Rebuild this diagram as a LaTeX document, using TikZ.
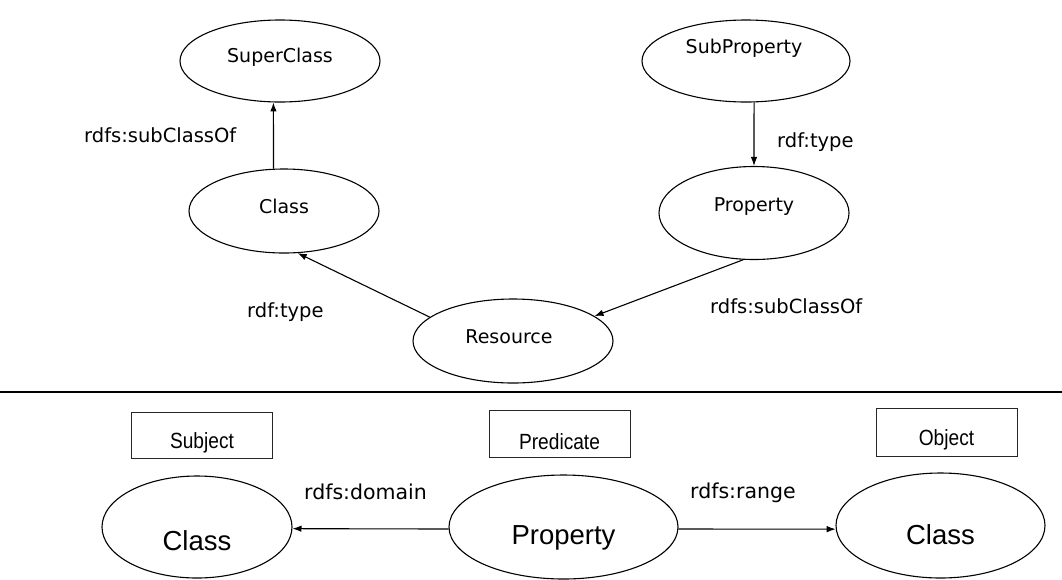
\documentclass[tikz,border=0pt]{standalone}
\usepackage{fontspec}
\setmainfont{DejaVu Sans}
\newfontfamily\arialf{Liberation Sans}
\newfontfamily\arialn[FakeStretch=0.87]{Liberation Sans}
\usetikzlibrary{shapes.geometric,arrows.meta}
\begin{document}
\begin{tikzpicture}[x=1pt,y=-1pt,
  ell/.style={draw, ellipse, line width=1.1pt, inner sep=0pt},
  tt/.style={font=\fontsize{19}{22}\selectfont, inner sep=0pt},
  lab/.style={font=\fontsize{19.5}{22}\selectfont, inner sep=0pt, anchor=base west},
  blab/.style={font=\fontsize{20.5}{24}\selectfont, inner sep=0pt, anchor=base west},
  box/.style={draw=black!85, line width=1pt, minimum width=141pt, minimum height=46pt, inner sep=0pt},
  btt/.style={font=\arialn\fontsize{22}{24}\selectfont, inner sep=0pt},
  bigtt/.style={font=\arialf\fontsize{27.5}{30}\selectfont, inner sep=0pt},
  arr/.style={line width=1.1pt, -{Latex[length=9pt,width=6.5pt]}},
]
\useasboundingbox (0,0) rectangle (1062,579);
\fill[white] (0,0) rectangle (1062,579);

% upper part
\node[ell, minimum width=200pt, minimum height=82pt, label={[tt,anchor=base,yshift=4pt]center:SuperClass}] (sup) at (280,61) {};
\node[ell, minimum width=190pt, minimum height=84pt, label={[tt,anchor=base,yshift=5pt]center:Class}] (cls) at (284,211) {};
\node[ell, minimum width=208pt, minimum height=82pt, label={[tt,anchor=base,yshift=13pt,xshift=-2pt]center:SubProperty}] (sub) at (746,61) {};
\node[ell, minimum width=190pt, minimum height=93pt, label={[tt,anchor=base,yshift=6pt]center:Property}] (prop) at (754,213) {};
\node[ell, minimum width=200pt, minimum height=84pt, label={[tt,anchor=base,yshift=4pt,xshift=-4pt]center:Resource}] (res) at (513,341) {};

\draw[arr] (cls.104.7) -- (sup.-99.7);
\draw[arr] (sub.-79) -- (prop.north);
\draw[arr] (res.164) -- (cls.-72);
\draw[arr] (prop.-103) -- (res.17);

\node[lab] (l1) at (84,142) {rdfs:subClassOf};
\node[lab] (l2) at (777,147) {rdf:type};
\node[lab] (l3) at (247,317) {rdf:type};
\node[lab] (l4) at (710,313) {rdfs:subClassOf};

% separator
\coordinate (sepL) at (0,392);
\coordinate (sepR) at (1062,392);
\draw[line width=1.3pt] (sepL) -- (sepR);

% lower part
\node[box, label={[btt,anchor=base,yshift=-8pt]center:Subject}] (subj) at (202,435) {};
\node[box, minimum height=47pt, label={[btt,anchor=base,yshift=-8pt]center:Predicate}] (pred) at (559.5,433.5) {};
\node[box, minimum height=48pt, label={[btt,anchor=base,yshift=-7.5pt]center:Object}] (obj) at (946.5,432) {};

\node[ell, minimum width=190pt, minimum height=102pt, label={[bigtt,anchor=base,yshift=-14pt]center:Class}] (lcls) at (197,527) {};
\node[ell, minimum width=229pt, minimum height=104pt, label={[bigtt,anchor=base,yshift=-11pt]center:Property}] (bprop) at (563.5,527) {};
\node[ell, minimum width=209pt, minimum height=105pt, label={[bigtt,anchor=base,yshift=-9pt]center:Class}] (rcls) at (940.5,525.5) {};

\draw[arr] (bprop.181.5) -- (lcls.-1.8);
\draw[arr] (bprop.-1.5) -- (rcls.182.5);

\node[blab] (l5) at (304,499) {rdfs:domain};
\node[blab] (l6) at (690,498) {rdfs:range};
\end{tikzpicture}
\end{document}
